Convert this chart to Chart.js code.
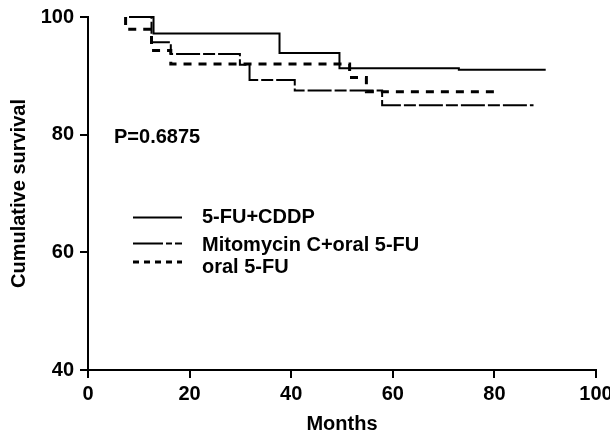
<!DOCTYPE html>
<html>
<head>
<meta charset="utf-8">
<script src="https://cdn.jsdelivr.net/npm/chart.js@4.4.1/dist/chart.umd.min.js"></script>
<style>
  html, body { margin: 0; padding: 0; background: #fff; }
  #wrap { width: 610px; height: 437px; }
</style>
</head>
<body>
<div id="wrap"><canvas id="chart" width="610" height="437"></canvas></div>
<script>
// Data: months and cumulative survival (%) at each step
const seriesNames = ['5-FU+CDDP', 'Mitomycin C+oral 5-FU', 'oral 5-FU'];
const cddpMonths = [8.1, 12.9, 37.7, 49.5, 73, 90.1];
const cddpSurvival = [100, 97.2, 93.9, 91.3, 91.05, 91.05];
const mitoMonths = [8.1, 12.5, 16.3, 29.9, 31.8, 40.7, 57.9, 87.7];
const mitoSurvival = [100, 95.7, 93.7, 91.9, 89.3, 87.5, 85.0, 85.0];
const oralMonths = [7.4, 7.4, 12.5, 16.3, 51.5, 54.8, 80.7];
const oralSurvival = [100, 97.9, 94.3, 92.0, 89.7, 87.3, 87.3];
const xTicks = [0, 20, 40, 60, 80, 100];
const yTicks = [40, 60, 80, 100];
const pValue = 'P=0.6875';

// Line styles per series
const dashes = [[], [24, 3, 12, 3], [8, 7]];
const widths = [2, 2, 3];
const legendDashes = [[], [30, 3, 6, 3, 7, 3], [6, 5]];

const FONT = '"Liberation Sans", Arial, Helvetica, sans-serif';
Chart.defaults.font.family = FONT;
Chart.defaults.font.size = 20;
Chart.defaults.font.weight = 'bold';
Chart.defaults.color = '#000';

const toPoints = (months, surv) => months.map((m, i) => ({ x: m, y: surv[i] }));

// Legend and P value drawn inside the plot
const extras = {
    id: 'extras',
    afterDraw(chart) {
        const ctx = chart.ctx;
        ctx.save();
        ctx.fillStyle = '#000';
        ctx.font = 'bold 20px ' + FONT;
        ctx.textBaseline = 'middle';
        ctx.textAlign = 'left';
        ctx.fillText(pValue, 114, 137);

        const rows = [[217.5, 217], [243.5, 245], [262, 267]];
        chart.data.datasets.forEach((ds, i) => {
            ctx.strokeStyle = '#000';
            ctx.lineWidth = widths[i];
            ctx.setLineDash(legendDashes[i]);
            ctx.beginPath();
            ctx.moveTo(133, rows[i][0]);
            ctx.lineTo(182, rows[i][0]);
            ctx.stroke();
            ctx.setLineDash([]);
            ctx.fillText(ds.label, 202, rows[i][1]);
        });
        ctx.restore();
    }
};

const sets = [
    toPoints(cddpMonths, cddpSurvival),
    toPoints(mitoMonths, mitoSurvival),
    toPoints(oralMonths, oralSurvival)
];

new Chart(document.getElementById('chart'), {
    type: 'line',
    data: {
        datasets: sets.map((pts, i) => ({
            label: seriesNames[i],
            data: pts,
            borderColor: '#000',
            borderWidth: widths[i],
            borderDash: dashes[i],
            borderCapStyle: 'butt',
            stepped: 'before',
            pointRadius: 0,
            fill: false,
            clip: 4
        }))
    },
    options: {
        responsive: false,
        animation: false,
        layout: { padding: { top: 17, right: 14, left: 0, bottom: 0 } },
        plugins: { legend: { display: false }, tooltip: { enabled: false } },
        scales: {
            x: {
                type: 'linear',
                min: 0,
                max: 100,
                afterBuildTicks: s => { s.ticks = xTicks.map(v => ({ value: v })); },
                afterFit: s => { s.height = 67; s.paddingLeft = 0; s.paddingRight = 0; },
                ticks: { color: '#000', padding: 4, maxRotation: 0 },
                grid: { drawOnChartArea: false, tickLength: 8, color: '#000', lineWidth: 2 },
                border: { color: '#000', width: 2 },
                title: { display: true, text: 'Months', color: '#000', padding: { top: 0, bottom: 1 } }
            },
            y: {
                min: 40,
                max: 100,
                afterBuildTicks: s => { s.ticks = yTicks.map(v => ({ value: v })); },
                afterFit: s => { s.width = 88; s.paddingTop = 0; s.paddingBottom = 0; },
                ticks: { color: '#000', padding: 6 },
                grid: { drawOnChartArea: false, tickLength: 8, color: '#000', lineWidth: 2 },
                border: { color: '#000', width: 2 },
                title: { display: true, text: 'Cumulative survival', color: '#000', padding: { top: 7 } }
            }
        }
    },
    plugins: [extras]
});
</script>
</body>
</html>
